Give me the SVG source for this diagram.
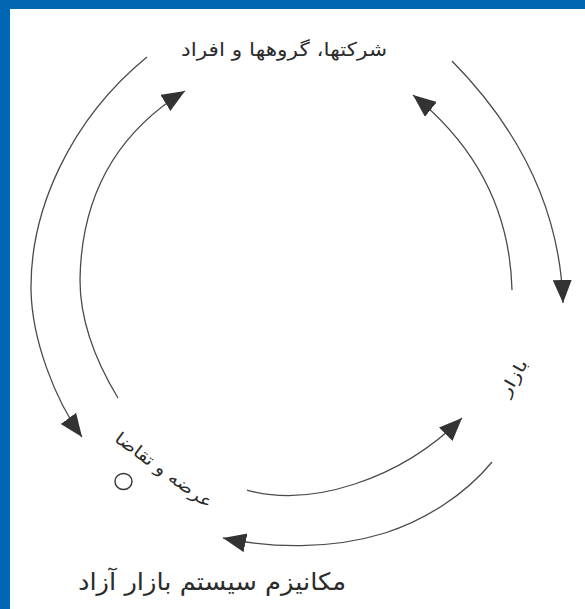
<svg xmlns="http://www.w3.org/2000/svg" width="585" height="609" viewBox="0 0 585 609">
  <style>
    .lbl { font-family: "DejaVu Sans", "Noto Sans", sans-serif; fill: #2b2b2b; }
    .arc { fill: none; stroke: #4a4a4a; stroke-width: 1.3; marker-end: url(#ah); }
  </style>
  <defs>
    <marker id="ah" markerUnits="userSpaceOnUse" markerWidth="24" markerHeight="20" refX="23" refY="9.5" orient="auto">
      <path d="M0,0 L23,9.5 L0,19 z" fill="#333"/>
    </marker>
  </defs>
  <rect x="0" y="0" width="585" height="609" fill="#ffffff"/>
  <rect x="0" y="0" width="585" height="9" fill="#0066b2"/>
  <rect x="0" y="0" width="10" height="609" fill="#0066b2"/>

  <g id="connectors">
    <path class="arc" d="M147,57 C 70,120 30,210 31,290 C 32,340 55,400 82,437"/>
    <path class="arc" d="M118,398 C 98,365 80,325 80,280 C 81,210 105,140 185,91"/>
    <path class="arc" d="M452,61 C 520,130 560,210 563,303"/>
    <path class="arc" d="M512,290 C 510,210 475,145 413,95"/>
    <path class="arc" d="M247,490 C 310,508 400,480 462,418"/>
    <path class="arc" d="M492,462 C 465,495 425,520 385,533 C 330,550 270,548 223,538"/>
  </g>

  <g id="node-firms">
    <text class="lbl" x="284" y="56" font-size="19" text-anchor="middle" textLength="206" lengthAdjust="spacingAndGlyphs">شرکتها، گروهها و افراد</text>
  </g>
  <g id="node-market">
    <text class="lbl" transform="translate(514,378) rotate(-60)" x="0" y="5" font-size="16" text-anchor="middle" textLength="40" lengthAdjust="spacingAndGlyphs">بازار</text>
  </g>
  <g id="node-supply-demand">
    <text class="lbl" transform="translate(164,470) rotate(36)" x="0" y="6" font-size="17" text-anchor="middle" textLength="116" lengthAdjust="spacingAndGlyphs">عرضه و تقاضا</text>
    <ellipse cx="123.5" cy="481.5" rx="8.5" ry="8" fill="none" stroke="#333" stroke-width="1.4"/>
  </g>
  <g id="node-title">
    <text class="lbl" x="212" y="590" font-size="24" text-anchor="middle" textLength="268" lengthAdjust="spacingAndGlyphs">مکانیزم سیستم بازار آزاد</text>
  </g>
</svg>
